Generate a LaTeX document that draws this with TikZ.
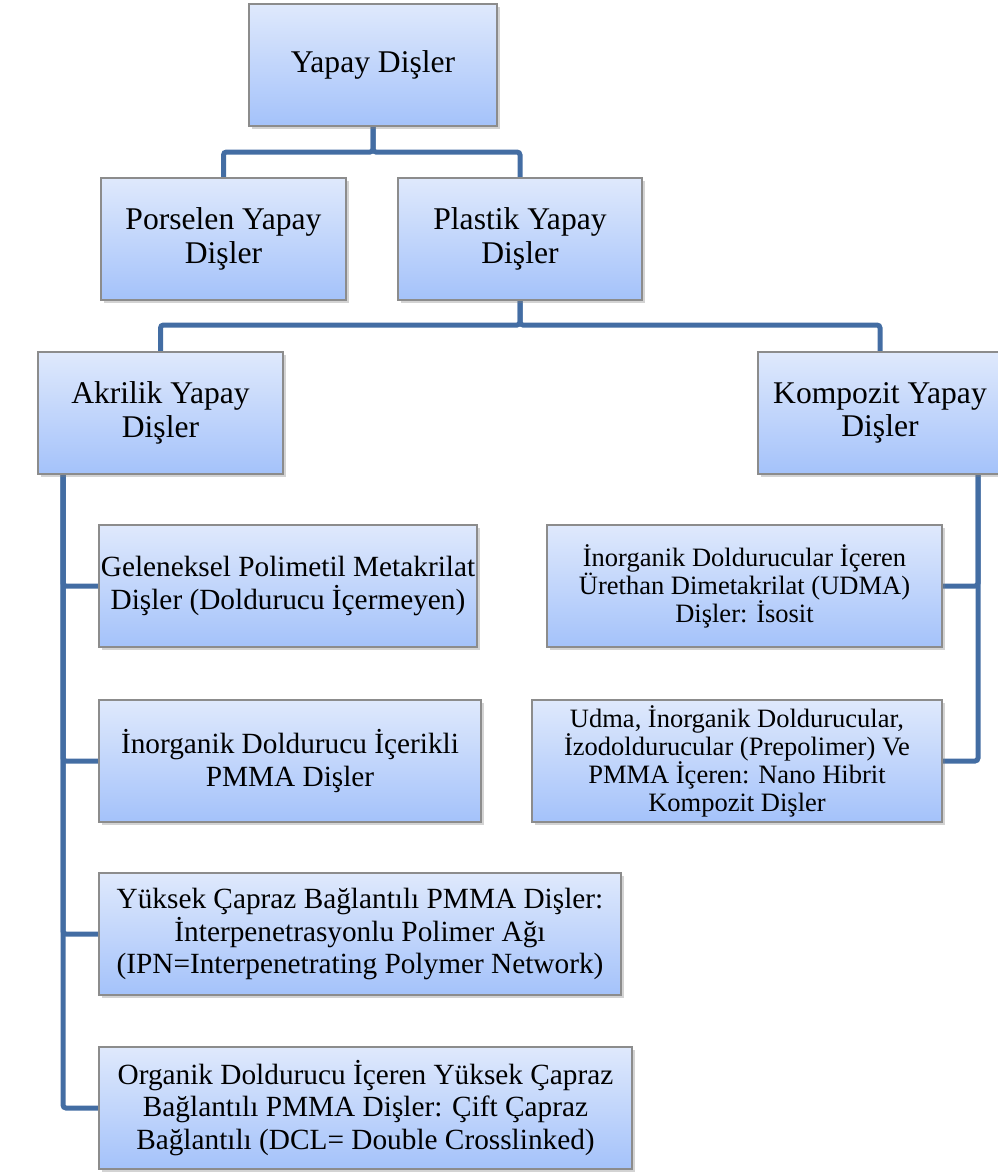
\documentclass[tikz,border=0pt]{standalone}
\usepackage{fontspec}
\setmainfont{Liberation Serif}
\usetikzlibrary{positioning,shadows,calc,backgrounds}
\definecolor{kutuust}{RGB}{223,233,252}
\definecolor{kutualt}{RGB}{164,194,250}
\definecolor{kutukenar}{RGB}{140,140,140}
\definecolor{hat}{RGB}{67,109,163}

\begin{document}
\begin{tikzpicture}[x=1pt,y=-1pt,
  kutu/.style={draw=kutukenar,line width=1.2pt,top color=kutuust,bottom color=kutualt,
    align=center,inner sep=0pt,outer sep=0pt,minimum height=122pt,
    font=\fontsize{29.3}{32.5}\selectfont,
    drop shadow={shadow xshift=3pt,shadow yshift=-3pt,opacity=0.35}},
  ukutu/.style={kutu,font=\fontsize{31.6}{33.5}\selectfont},
  kkutu/.style={kutu,font=\fontsize{26.5}{28}\selectfont},
  hatcizgi/.style={draw=hat,line width=5pt,rounded corners=3pt}]
\useasboundingbox (0,0) rectangle (997,1173);

% ust seviye
\node[ukutu,minimum width=248pt] (yapay) at (373,65) {Yapay Dişler};
\node[ukutu,minimum width=245pt] (porselen) at (223.5,239) {Porselen Yapay\\Dişler};
\node[ukutu,minimum width=244pt] (plastik) at (520,239) {Plastik Yapay\\Dişler};
\node[ukutu,minimum width=245pt] (akrilik) at (160.5,413) {Akrilik Yapay\\Dişler};
\node[ukutu,minimum width=244pt] (kompozit) at (880,413) {Kompozit Yapay\\Dişler};

% akrilik alt turleri
\node[kutu,minimum width=378pt] (geleneksel) at (288,586) {Geleneksel Polimetil Metakrilat\\Dişler (Doldurucu İçermeyen)};
\node[kutu,minimum width=382pt] (inorgpmma) at (290,761) {İnorganik Doldurucu İçerikli\\PMMA Dişler};
\node[kutu,minimum width=522pt] (yuksek) at (360,934) {Yüksek Çapraz Bağlantılı PMMA Dişler:\\İnterpenetrasyonlu Polimer Ağı\\(IPN=Interpenetrating Polymer Network)};
\node[kutu,minimum width=533pt] (organik) at (365.5,1108) {Organik Doldurucu İçeren Yüksek Çapraz\\Bağlantılı PMMA Dişler: Çift Çapraz\\Bağlantılı (DCL= Double Crosslinked)};

% kompozit alt turleri
\node[kkutu,minimum width=395pt] (udmaiso) at (744.5,586) {İnorganik Doldurucular İçeren\\Ürethan Dimetakrilat (UDMA)\\Dişler: İsosit};
\node[kkutu,minimum width=410pt] (nanohibrit) at (737,761) {Udma, İnorganik Doldurucular,\\İzodoldurucular  (Prepolimer) Ve\\PMMA İçeren: Nano Hibrit\\Kompozit Dişler};

\begin{scope}[on background layer]
\draw[hatcizgi] (yapay.south) -- ++(0,26) -| (porselen.north);
\draw[hatcizgi] (yapay.south) -- ++(0,26) -| (plastik.north);
\draw[hatcizgi] (plastik.south) -- ++(0,25) -| (akrilik.north);
\draw[hatcizgi] (plastik.south) -- ++(0,25) -| (kompozit.north);
\coordinate (solhat) at ($(akrilik.south west)+(25,0)$);
\coordinate (saghat) at ($(kompozit.south east)+(-24,0)$);
\foreach \k in {geleneksel,inorgpmma,yuksek,organik}
  \draw[hatcizgi] (solhat) |- (\k.west);
\foreach \k in {udmaiso,nanohibrit}
  \draw[hatcizgi] (saghat) |- (\k.east);
\end{scope}
\end{tikzpicture}
\end{document}
